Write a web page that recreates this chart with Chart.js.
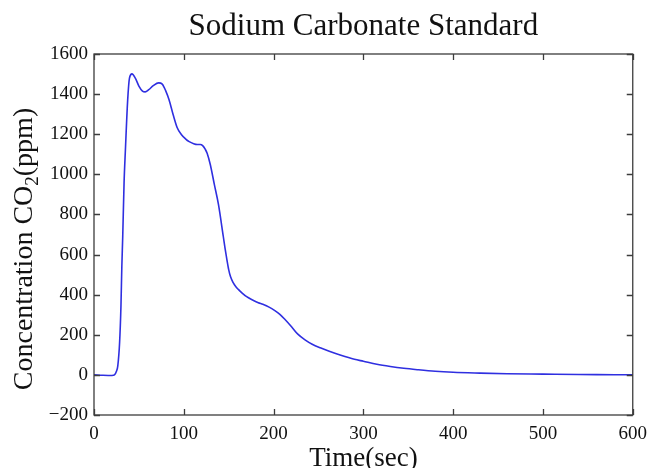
<!DOCTYPE html>
<html>
<head>
<meta charset="utf-8">
<title>Sodium Carbonate Standard</title>
<script src="https://cdn.jsdelivr.net/npm/chart.js@4.4.1/dist/chart.umd.min.js"></script>
<style>
  html, body { margin: 0; padding: 0; background: #fff; }
  canvas { display: block; }
</style>
</head>
<body>
<canvas id="co2Chart" width="655" height="468"></canvas>
<script>
// values
const timeSec = [0, 10, 20, 22.8, 25, 26.5, 28.5, 30, 31, 32, 33.5, 35, 37.5, 39.5, 42.3,
  46, 50, 54, 57, 61, 66, 72, 76, 80, 83.5, 88, 92.7, 97, 101.9, 106, 111, 115, 118.4,
  121, 124, 126, 129.5, 134, 138.6, 144, 146, 148, 150, 152, 155, 158, 161, 165, 170, 176, 183,
  188, 195, 201, 207, 213, 220, 227, 235, 243, 252, 262, 275, 290, 300, 315, 330, 345,
  360, 380, 400, 430, 460, 500, 540, 580, 600];
const concPpm = [0, -2, -3, 0, 18, 45, 160, 340, 540, 690, 960, 1124, 1370, 1480, 1501,
  1480, 1440, 1415, 1411, 1422, 1442, 1456, 1450, 1415, 1373, 1300, 1232, 1200, 1177,
  1163, 1153, 1149, 1149, 1143, 1124, 1105, 1049, 950, 850, 690, 630, 575, 525, 490, 460,
  440, 425, 408, 390, 375, 360, 352, 338, 322, 302, 275, 240, 203, 175, 153, 135, 118, 98,
  78, 68, 53, 42, 33, 26, 18, 13, 9, 6, 4, 2, 1, 0];
const xTicks = [0, 100, 200, 300, 400, 500, 600];
const yTicks = [-200, 0, 200, 400, 600, 800, 1000, 1200, 1400, 1600];

const serif = '"Liberation Serif", "Times New Roman", serif';
const frameColor = '#3c3c3c';

// MATLAB-style box with inward ticks on all four sides
const boxPlugin = {
  id: 'matlabBox',
  afterDatasetsDraw(chart) {
    const {ctx, chartArea: a, scales} = chart;
    const len = 6;
    ctx.save();
    ctx.strokeStyle = frameColor;
    ctx.lineWidth = 1.3;
    ctx.strokeRect(a.left, a.top, a.right - a.left, a.bottom - a.top);
    ctx.beginPath();
    xTicks.forEach(function(t) {
      const px = Math.round(scales.x.getPixelForValue(t)) + 0.5;
      ctx.moveTo(px, a.bottom); ctx.lineTo(px, a.bottom - len);
      ctx.moveTo(px, a.top); ctx.lineTo(px, a.top + len);
    });
    yTicks.forEach(function(v) {
      const py = Math.round(scales.y.getPixelForValue(v)) + 0.5;
      ctx.moveTo(a.left, py); ctx.lineTo(a.left + len, py);
      ctx.moveTo(a.right, py); ctx.lineTo(a.right - len, py);
    });
    ctx.stroke();
    ctx.restore();
  }
};

// y axis title with a real subscript 2
const yTitlePlugin = {
  id: 'yTitle',
  afterDraw(chart) {
    const ctx = chart.ctx;
    const main = '28px ' + serif;
    const sub = '19px ' + serif;
    const parts = [
      {text: 'Concentration CO', font: main, dy: 0},
      {text: '2', font: sub, dy: 6},
      {text: '(ppm)', font: main, dy: 0}
    ];
    let total = 0;
    parts.forEach(function(p) { ctx.font = p.font; p.w = ctx.measureText(p.text).width; total += p.w; });
    ctx.save();
    ctx.translate(31.5, 249);
    ctx.rotate(-Math.PI / 2);
    ctx.fillStyle = '#111';
    ctx.textBaseline = 'alphabetic';
    ctx.textAlign = 'left';
    let x = -total / 2;
    parts.forEach(function(p) {
      ctx.font = p.font;
      ctx.fillText(p.text, x, p.dy);
      x += p.w;
    });
    ctx.restore();
  }
};

const points = timeSec.map(function(t, i) { return {x: t, y: concPpm[i]}; });

new Chart(document.getElementById('co2Chart'), {
  type: 'line',
  data: {
    datasets: [{
      label: 'CO2',
      data: points,
      borderColor: '#2f2fe0',
      borderWidth: 1.6,
      pointRadius: 0,
      fill: false,
      cubicInterpolationMode: 'monotone'
    }]
  },
  options: {
    responsive: false,
    animation: false,
    layout: { padding: { left: 0, right: 17, top: 0, bottom: 0 } },
    plugins: {
      legend: { display: false },
      tooltip: { enabled: false },
      title: {
        display: true,
        text: 'Sodium Carbonate Standard',
        fullSize: false,
        color: '#111',
        font: { family: serif, size: 31, weight: 'normal', lineHeight: 1.2 },
        padding: { top: 8, bottom: 8.8 }
      }
    },
    scales: {
      x: {
        type: 'linear',
        min: 0,
        max: 600,
        afterBuildTicks: function(s) { s.ticks = xTicks.map(function(v) { return {value: v}; }); },
        afterFit: function(s) { s.height = 53; },
        grid: { display: false, drawTicks: false },
        border: { display: false },
        ticks: {
          padding: 8,
          maxRotation: 0,
          color: '#111',
          font: { family: serif, size: 19 }
        },
        title: {
          display: true,
          text: 'Time(sec)',
          color: '#111',
          font: { family: serif, size: 27, lineHeight: 1 },
          padding: { top: 0, bottom: -4 }
        }
      },
      y: {
        min: -200,
        max: 1600,
        afterBuildTicks: function(s) { s.ticks = yTicks.map(function(v) { return {value: v}; }); },
        afterFit: function(s) { s.width = 94; },
        grid: { display: false, drawTicks: false },
        border: { display: false },
        ticks: {
          padding: 6,
          color: '#111',
          font: { family: serif, size: 19 },
          callback: function(v) { return String(v).replace('-', '\u2212'); }
        }
      }
    }
  },
  plugins: [boxPlugin, yTitlePlugin]
});
</script>
</body>
</html>
